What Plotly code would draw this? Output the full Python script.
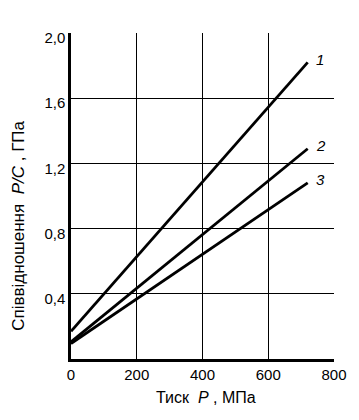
import plotly.graph_objects as go

# Data
pressure = [0, 720]                 # Тиск P, МПа
ratio_1 = [0.17, 1.82]              # curve 1, ГПа
ratio_2 = [0.105, 1.29]             # curve 2
ratio_3 = [0.095, 1.08]             # curve 3
curve_labels = ["1", "2", "3"]

x_ticks = [0, 200, 400, 600, 800]
x_ticktext = ["0", "200", "400", "600", "800"]
y_ticks = [0.4, 0.8, 1.2, 1.6, 2.0]
y_ticktext = ["0,4", "0,8", "1,2", "1,6", "2,0"]

FONT = "Liberation Sans, Arial, sans-serif"

fig = go.Figure()
for ys in (ratio_1, ratio_2, ratio_3):
    fig.add_trace(go.Scatter(x=pressure, y=ys, mode="lines",
                             line=dict(color="black", width=2.8),
                             showlegend=False, hoverinfo="skip"))

for lbl, ys in zip(curve_labels, (ratio_1, ratio_2, ratio_3)):
    fig.add_annotation(x=pressure[-1], y=ys[-1], text=f"<i>{lbl}</i>",
                       showarrow=False, xanchor="left", yanchor="middle",
                       xshift=6, yshift=3,
                       font=dict(family=FONT, size=15, color="black"))

fig.add_annotation(xref="paper", yref="paper", x=0.513, y=-0.117,
                   text="Тиск  <i>P</i> , МПа", showarrow=False,
                   xanchor="center", yanchor="middle",
                   font=dict(family=FONT, size=16, color="black"))
fig.add_annotation(xref="paper", yref="paper", x=-0.2, y=0.41,
                   text="Співвідношення  <i>P/C</i> , ГПа", showarrow=False,
                   textangle=-90, xanchor="center", yanchor="middle",
                   font=dict(family=FONT, size=17, color="black"))

fig.update_xaxes(range=[0, 800], tickvals=x_ticks, ticktext=x_ticktext,
                 showgrid=True, gridcolor="black", gridwidth=1,
                 showline=True, linecolor="black", linewidth=2.5,
                 ticks="", zeroline=False,
                 tickfont=dict(family=FONT, size=15, color="black"))
fig.update_yaxes(range=[0, 2.0], tickvals=y_ticks, ticktext=y_ticktext,
                 showgrid=True, gridcolor="black", gridwidth=1,
                 showline=True, linecolor="black", linewidth=2.5,
                 ticks="", zeroline=False, ticklabelshift=5,
                 tickfont=dict(family=FONT, size=15, color="black"))

# page body has an 8px margin, so the figure is placed at (8, 8)
fig.update_layout(width=351, height=412,
                  margin=dict(l=63, r=23, t=25, b=61),
                  plot_bgcolor="white", paper_bgcolor="white",
                  font=dict(family=FONT, size=15, color="black"))

fig.write_html("out.html")
